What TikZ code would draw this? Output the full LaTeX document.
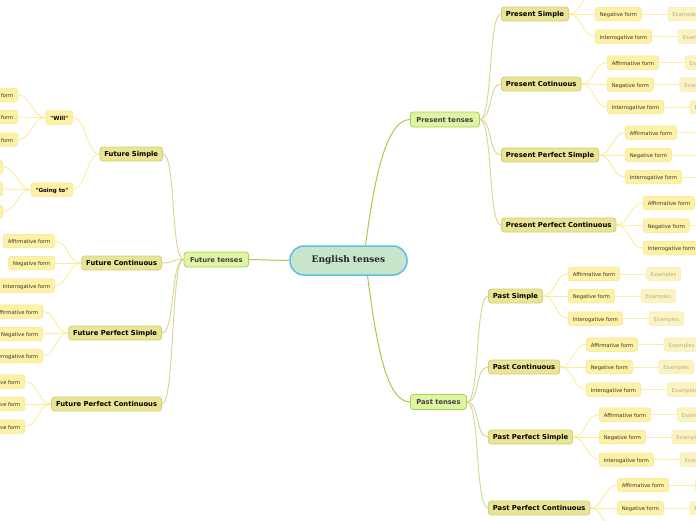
\documentclass[tikz,border=0pt]{standalone}
\usepackage{fontspec}
\newfontfamily\dvs{DejaVu Sans}
\newfontfamily\dvserif{DejaVu Serif}
\usetikzlibrary{positioning,backgrounds}
\definecolor{rootf}{HTML}{C6E5CB}
\definecolor{rootb}{HTML}{5DBDE8}
\definecolor{lonf}{HTML}{DFF5A6}
\definecolor{lonb}{HTML}{A9D24E}
\definecolor{lont}{HTML}{404040}
\definecolor{ltwof}{HTML}{EAE496}
\definecolor{ltwob}{HTML}{D6CF74}
\definecolor{lthreef}{HTML}{FDF1A5}
\definecolor{lthreeb}{HTML}{F6E68E}
\definecolor{exf}{HTML}{FCF3C2}
\definecolor{exb}{HTML}{F5EBB0}
\definecolor{ext}{HTML}{B5AD85}
\definecolor{conec}{HTML}{A9C84C}
\definecolor{ctwoc}{HTML}{D8D38F}
\definecolor{cthreec}{HTML}{FAEB95}
\definecolor{cfourc}{HTML}{FAEEAA}
\newcommand\cnR[3]{\draw[#1] (#2) .. controls +(13,0) and +(-13,0) .. (#3);}
\newcommand\cnL[3]{\draw[#1] (#2) .. controls +(-13,0) and +(13,0) .. (#3);}
\begin{document}
\begin{tikzpicture}[x=1pt,y=-1pt,
 root/.style={draw=rootb, line width=1.5pt, fill=rootf, rounded corners=14pt, minimum width=117pt, minimum height=29pt, font=\dvserif\bfseries\fontsize{9}{10}\selectfont, text=black!85},
 lone/.style={draw=lonb, line width=0.8pt, fill=lonf, rounded corners=3pt, minimum height=15pt, inner xsep=6pt, inner ysep=0pt, text height=0.75em, text depth=0.2em, font=\dvs\bfseries\fontsize{6.75}{8}\selectfont, text=lont},
 ltwo/.style={draw=ltwob, line width=0.8pt, fill=ltwof, rounded corners=3pt, minimum height=14pt, inner xsep=4.5pt, inner ysep=0pt, text height=0.75em, text depth=0.2em, font=\dvs\bfseries\fontsize{6.8}{8}\selectfont, text=black},
 lthree/.style={draw=lthreeb, line width=0.5pt, fill=lthreef, rounded corners=2.5pt, minimum height=13.5pt, inner xsep=4.5pt, inner ysep=0pt, text height=0.75em, text depth=0.2em, font=\dvs\fontsize{5.2}{6}\selectfont, text=black!80},
 ex/.style={draw=exb, line width=0.5pt, fill=exf, rounded corners=2.5pt, minimum height=13.5pt, inner xsep=4.5pt, inner ysep=0pt, text height=0.75em, text depth=0.2em, font=\dvs\fontsize{5.3}{6}\selectfont, text=ext},
 cone/.style={draw=conec, line width=1pt},
 ctwo/.style={draw=ctwoc, line width=0.9pt},
 cthree/.style={draw=cthreec, line width=0.8pt},
 cfour/.style={draw=cfourc, line width=0.8pt},
]
\useasboundingbox (0,0) rectangle (696,520);
% root and level 1
\node[root] (c) at (348.5,260.5) {English tenses};
\node[lone, anchor=west] (pt) at (410,119.5) {Present tenses};
\node[lone, anchor=west] (pa) at (410,402) {Past tenses};
\node[lone, anchor=east] (ft) at (249,259.5) {Future tenses};
% level 2
\node[ltwo, anchor=west] (ps) at (501,14) {Present Simple};
\node[ltwo, anchor=west] (pc) at (501,84) {Present Cotinuous};
\node[ltwo, anchor=west] (pps) at (501,155) {Present Perfect Simple};
\node[ltwo, anchor=west] (ppc) at (501,225) {Present Perfect Continuous};
\node[ltwo, anchor=west] (pas) at (488,296) {Past Simple};
\node[ltwo, anchor=west] (pac) at (488,367) {Past Continuous};
\node[ltwo, anchor=west] (paps) at (488,437) {Past Perfect Simple};
\node[ltwo, anchor=west] (papc) at (488,508) {Past Perfect Continuous};
\node[ltwo, anchor=east] (fs) at (163,154) {Future Simple};
\node[ltwo, anchor=east] (fc) at (162,263) {Future Continuous};
\node[ltwo, anchor=east] (fps) at (162,333) {Future Perfect Simple};
\node[ltwo, anchor=east] (fpc) at (162,404) {Future Perfect Continuous};
% level 3 right
\node[lthree, anchor=west] (psa) at (595,-8) {Affirmative form};
\node[lthree, anchor=west] (psn) at (595,14) {Negative form};
\node[lthree, anchor=west] (psi) at (595,36.5) {Interrogative form};
\node[lthree, anchor=west] (pca) at (607,62.5) {Affirmative form};
\node[lthree, anchor=west] (pcn) at (607,84.5) {Negative form};
\node[lthree, anchor=west] (pci) at (607,107) {Interrogative form};
\node[lthree, anchor=west] (ppsa) at (625,132.5) {Affirmative form};
\node[lthree, anchor=west] (ppsn) at (625,155) {Negative form};
\node[lthree, anchor=west] (ppsi) at (625,177) {Interrogative form};
\node[lthree, anchor=west] (ppca) at (643,203) {Affirmative form};
\node[lthree, anchor=west] (ppcn) at (643,225.5) {Negative form};
\node[lthree, anchor=west] (ppci) at (643,248) {Interrogative form};
\node[lthree, anchor=west] (pasa) at (568,274) {Affirmative form};
\node[lthree, anchor=west] (pasn) at (568,296) {Negative form};
\node[lthree, anchor=west] (pasi) at (568,318.5) {Interogative form};
\node[lthree, anchor=west] (paca) at (586,344.5) {Affirmative form};
\node[lthree, anchor=west] (pacn) at (586,367) {Negative form};
\node[lthree, anchor=west] (paci) at (586,389.5) {Interogative form};
\node[lthree, anchor=west] (papsa) at (599,414.5) {Affirmative form};
\node[lthree, anchor=west] (papsn) at (599,437) {Negative form};
\node[lthree, anchor=west] (papsi) at (599,459.5) {Interogative form};
\node[lthree, anchor=west] (papca) at (617,485) {Affirmative form};
\node[lthree, anchor=west] (papcn) at (617,508) {Negative form};
\node[lthree, anchor=west] (papci) at (617,530) {Interogative form};
% examples right
\foreach \n in {psa,psn,psi,pca,pcn,pci,ppsa,ppsn,ppsi,ppca,ppcn,ppci,pasa,pasn,pasi,paca,pacn,paci,papsa,papsn,papsi,papca,papcn,papci}{
  \node[ex, right=26pt of \n] (\n x) {Examples};
}
% level 3 left
\node[lthree, anchor=east, font=\dvs\bfseries\fontsize{5.6}{6}\selectfont, text=black] (fsw) at (73,117.5) {"Will"};
\node[lthree, anchor=east, font=\dvs\bfseries\fontsize{5.6}{6}\selectfont, text=black] (fsg) at (73,189.5) {"Going to"};
\node[lthree, anchor=east] (fswa) at (18,95) {Affirmative form};
\node[lthree, anchor=east] (fswn) at (18,117) {Negative form};
\node[lthree, anchor=east] (fswi) at (18,139.5) {Interrogative form};
\node[lthree, anchor=east] (fsga) at (3,167) {Affirmative form};
\node[lthree, anchor=east] (fsgn) at (3,189) {Negative form};
\node[lthree, anchor=east] (fsgi) at (3,211.5) {Interrogative form};
\node[lthree, anchor=east] (fca) at (55,241) {Affirmative form};
\node[lthree, anchor=east] (fcn) at (55,263) {Negative form};
\node[lthree, anchor=east] (fci) at (55,285.5) {Interrogative form};
\node[lthree, anchor=east] (fpsa) at (43,311.5) {Affirmative form};
\node[lthree, anchor=east] (fpsn) at (43,334) {Negative form};
\node[lthree, anchor=east] (fpsi) at (43,356) {Interrogative form};
\node[lthree, anchor=east] (fpca) at (25,381.5) {Affirmative form};
\node[lthree, anchor=east] (fpcn) at (25,404) {Negative form};
\node[lthree, anchor=east] (fpci) at (25,426.5) {Interrogative form};
% connectors
\begin{scope}[on background layer]
\draw[cone] ([xshift=17pt]c.north) .. controls +(8,-60) and +(-25,0) .. (pt.west);
\draw[cone] ([xshift=19pt]c.south) .. controls +(8,60) and +(-25,0) .. (pa.west);
\draw[cone] (c.west) .. controls +(-20,0) and +(20,0) .. (ft.east);
\foreach \b in {ps,pc,pps,ppc}{ \cnR{ctwo}{pt.east}{\b.west} }
\foreach \b in {pas,pac,paps,papc}{ \cnR{ctwo}{pa.east}{\b.west} }
\foreach \b in {fs,fc,fps,fpc}{ \cnL{ctwo}{ft.west}{\b.east} }
\foreach \p in {ps,pc,pps,ppc,pas,pac,paps,papc}{
  \foreach \s in {a,n,i}{ \cnR{cthree}{\p.east}{\p\s.west} \draw[cfour] (\p\s.east) -- (\p\s x.west); }
}
\foreach \p in {fc,fps,fpc}{
  \foreach \s in {a,n,i}{ \cnL{cthree}{\p.west}{\p\s.east} }
}
\cnL{cthree}{fs.west}{fsw.east}
\cnL{cthree}{fs.west}{fsg.east}
\foreach \p in {fsw,fsg}{
  \foreach \s in {a,n,i}{ \cnL{cthree}{\p.west}{\p\s.east} }
}
\end{scope}
\end{tikzpicture}
\end{document}
